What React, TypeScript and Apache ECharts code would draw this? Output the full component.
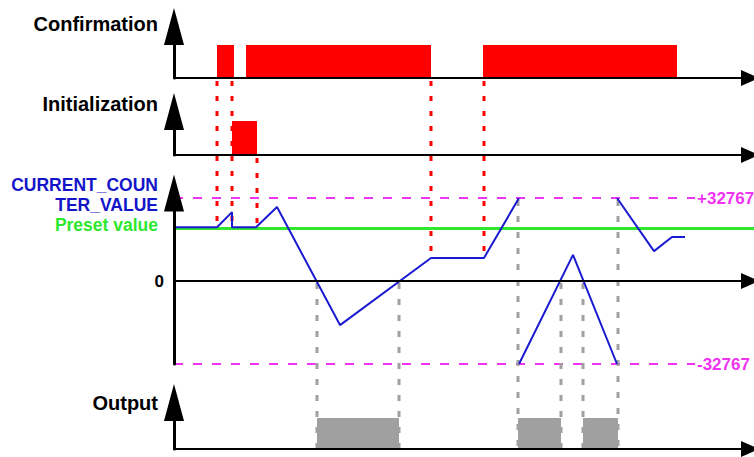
import React, { useEffect, useRef } from 'react';
import * as echarts from 'echarts';

// ---- data (time in arbitrary units along the common time axis) ----
const timeMax = 580;
const confirmationOn: number[][] = [[43, 60], [72, 257], [309, 503]];
const initializationOn: number[][] = [[58, 83]];
const outputOn: number[][] = [[143, 225], [344, 387], [409, 444]];

const counterTimes = [0, 43, 58, 58, 82, 103, 166, 257, 310, 345, 345, 345, 399, 443, 443, 443, 480, 498, 511];
const counterValues: (number | null)[] = [21200, 21200, 27200, 21200, 21200, 29200, -17400, 9100, 9100, 32767, null, -32767, 10300, -32767, null, 32767, 11800, 17400, 17400];

const presetValue = 20800;
const counterMax = 32767;
const counterMin = -32767;
const limitValues = [32767, -32767];
const limitLabels = ['+32767', '-32767'];
const limitLineEnd = 521;

const signalNames = ['Confirmation', 'Initialization', 'Output'];
const counterNameLines = ['CURRENT_COUN', 'TER_VALUE'];
const presetName = 'Preset value';

// red dotted markers: time, source panel (0 = Confirmation, 1 = Initialization), counter level reached
const triggerTimes = [43, 58, 83, 257, 310];
const triggerSources = [0, 0, 1, 0, 0];
const triggerLevels = [21200, 21200, 21200, 9100, 9100];

// grey dotted markers: time, counter level where the output edge starts
const outputEdgeTimes = [143, 225, 344, 387, 409, 444];
const outputEdgeLevels = [0, 0, 32767, 0, 0, 32767];

const FONT = "'Liberation Sans', Arial, Helvetica, sans-serif";
const RED = '#ff0000';
const GREY = '#a0a0a0';
const BLUE = '#1a1ad0';
const LABEL_BLUE = '#1414c8';
const GREEN = '#2ee82e';
const MAGENTA = '#f033f0';

export default function App() {
  const ref = useRef<HTMLDivElement>(null);

  useEffect(() => {
    const chart = echarts.init(ref.current!, null, { renderer: 'svg' });

    const grids = [
      { left: 174, right: 0, top: 45, height: 33 },
      { left: 174, right: 0, top: 121, height: 34 },
      { left: 174, right: 0, top: 198, height: 166 },
      { left: 174, right: 0, top: 418, height: 31 },
    ];
    const yArrowOffsets = [18.5, 9.5, 5, 15.5];
    const yRanges = [[0, 1], [0, 1], [counterMin, counterMax], [0, 1]];

    const xAxes = grids.map((_, i) => ({
      type: 'value',
      gridIndex: i,
      min: 0,
      max: timeMax,
      z: 5,
      axisLine: {
        show: true,
        onZero: true,
        symbol: ['none', 'triangle'],
        symbolSize: [16, 18],
        symbolOffset: [0, -4],
        lineStyle: { color: '#000', width: 2 },
      },
      axisTick: { show: false },
      axisLabel: { show: false },
      splitLine: { show: false },
    }));

    const yAxes = grids.map((_, i) => ({
      type: 'value',
      gridIndex: i,
      min: yRanges[i][0],
      max: yRanges[i][1],
      z: 5,
      axisLine: {
        show: true,
        onZero: false,
        symbol: ['none', 'triangle'],
        symbolSize: [20, 37],
        symbolOffset: [0, yArrowOffsets[i]],
        lineStyle: { color: '#000', width: 3 },
      },
      axisTick: { show: false },
      axisLabel: i === 2
        ? {
            show: true,
            margin: 10,
            color: '#000',
            fontWeight: 'bold',
            fontSize: 17,
            fontFamily: FONT,
            formatter: (v: number) => (v === 0 ? '0' : ''),
          }
        : { show: false },
      splitLine: { show: false },
    }));

    const pulseSeries = (data: number[][], idx: number, color: string) => ({
      type: 'custom',
      xAxisIndex: idx,
      yAxisIndex: idx,
      silent: true,
      encode: { x: [0, 1] },
      data,
      renderItem: (_p: any, api: any) => {
        const a = api.coord([api.value(0), 1]);
        const b = api.coord([api.value(1), 0]);
        return {
          type: 'rect',
          shape: { x: a[0], y: a[1], width: b[0] - a[0], height: b[1] - a[1] },
          style: { fill: color },
        };
      },
    });

    const limitLines = limitValues.map((v, i) => [
      {
        coord: [0, v],
        lineStyle: { color: MAGENTA, width: 2, type: [9, 10], opacity: 1 },
        label: {
          show: true,
          position: 'end',
          distance: 2,
          formatter: limitLabels[i],
          color: MAGENTA,
          fontWeight: 'bold',
          fontSize: 17,
          fontFamily: FONT,
        },
      },
      { coord: [limitLineEnd, v] },
    ]);

    chart.setOption({
      animation: false,
      grid: grids,
      xAxis: xAxes,
      yAxis: yAxes,
      series: [
        pulseSeries(confirmationOn, 0, RED),
        pulseSeries(initializationOn, 1, RED),
        {
          type: 'line',
          xAxisIndex: 2,
          yAxisIndex: 2,
          z: 3,
          silent: true,
          showSymbol: false,
          connectNulls: false,
          data: counterTimes.map((t, i) => [t, counterValues[i]]),
          lineStyle: { color: BLUE, width: 2 },
          markLine: {
            silent: true,
            z: 1,
            symbol: ['none', 'none'],
            data: [
              {
                yAxis: presetValue,
                lineStyle: { color: GREEN, width: 3, type: 'solid', opacity: 1 },
                label: { show: false },
              },
              ...limitLines,
            ],
          },
        },
        pulseSeries(outputOn, 3, GREY),
      ],
    });

    const graphics: any[] = [];
    triggerTimes.forEach((t, i) => {
      const a = chart.convertToPixel({ gridIndex: triggerSources[i] }, [t, 0]) as number[];
      const b = chart.convertToPixel({ gridIndex: 2 }, [t, triggerLevels[i]]) as number[];
      graphics.push({
        type: 'line',
        silent: true,
        z: 1,
        shape: { x1: a[0], y1: a[1] + 3, x2: a[0], y2: b[1] + 2 },
        style: { stroke: RED, lineWidth: 3, lineDash: [5, 10] },
      });
    });
    outputEdgeTimes.forEach((t, i) => {
      const a = chart.convertToPixel({ gridIndex: 2 }, [t, outputEdgeLevels[i]]) as number[];
      const b = chart.convertToPixel({ gridIndex: 3 }, [t, 0]) as number[];
      graphics.push({
        type: 'line',
        silent: true,
        z: 1,
        shape: { x1: a[0], y1: a[1] + 2, x2: a[0], y2: b[1] },
        style: { stroke: GREY, lineWidth: 3, lineDash: [6, 10] },
      });
    });

    const text = (s: string, y: number, color: string, size: number) => ({
      type: 'text',
      silent: true,
      x: 158,
      y,
      style: {
        text: s,
        fill: color,
        font: `bold ${size}px ${FONT}`,
        align: 'right',
        verticalAlign: 'middle',
      },
    });
    graphics.push(text(signalNames[0], 24, '#000', 20));
    graphics.push(text(signalNames[1], 104, '#000', 20));
    graphics.push(text(counterNameLines[0], 185, LABEL_BLUE, 17.5));
    graphics.push(text(counterNameLines[1], 204.5, LABEL_BLUE, 17.5));
    graphics.push(text(presetName, 225, GREEN, 17.5));
    graphics.push(text(signalNames[2], 403, '#000', 20));

    chart.setOption({ graphic: graphics });

    return () => chart.dispose();
  }, []);

  return (
    <div
      ref={ref}
      style={{ position: 'fixed', left: 0, top: 0, width: 754, height: 457, background: '#fff' }}
    />
  );
}
